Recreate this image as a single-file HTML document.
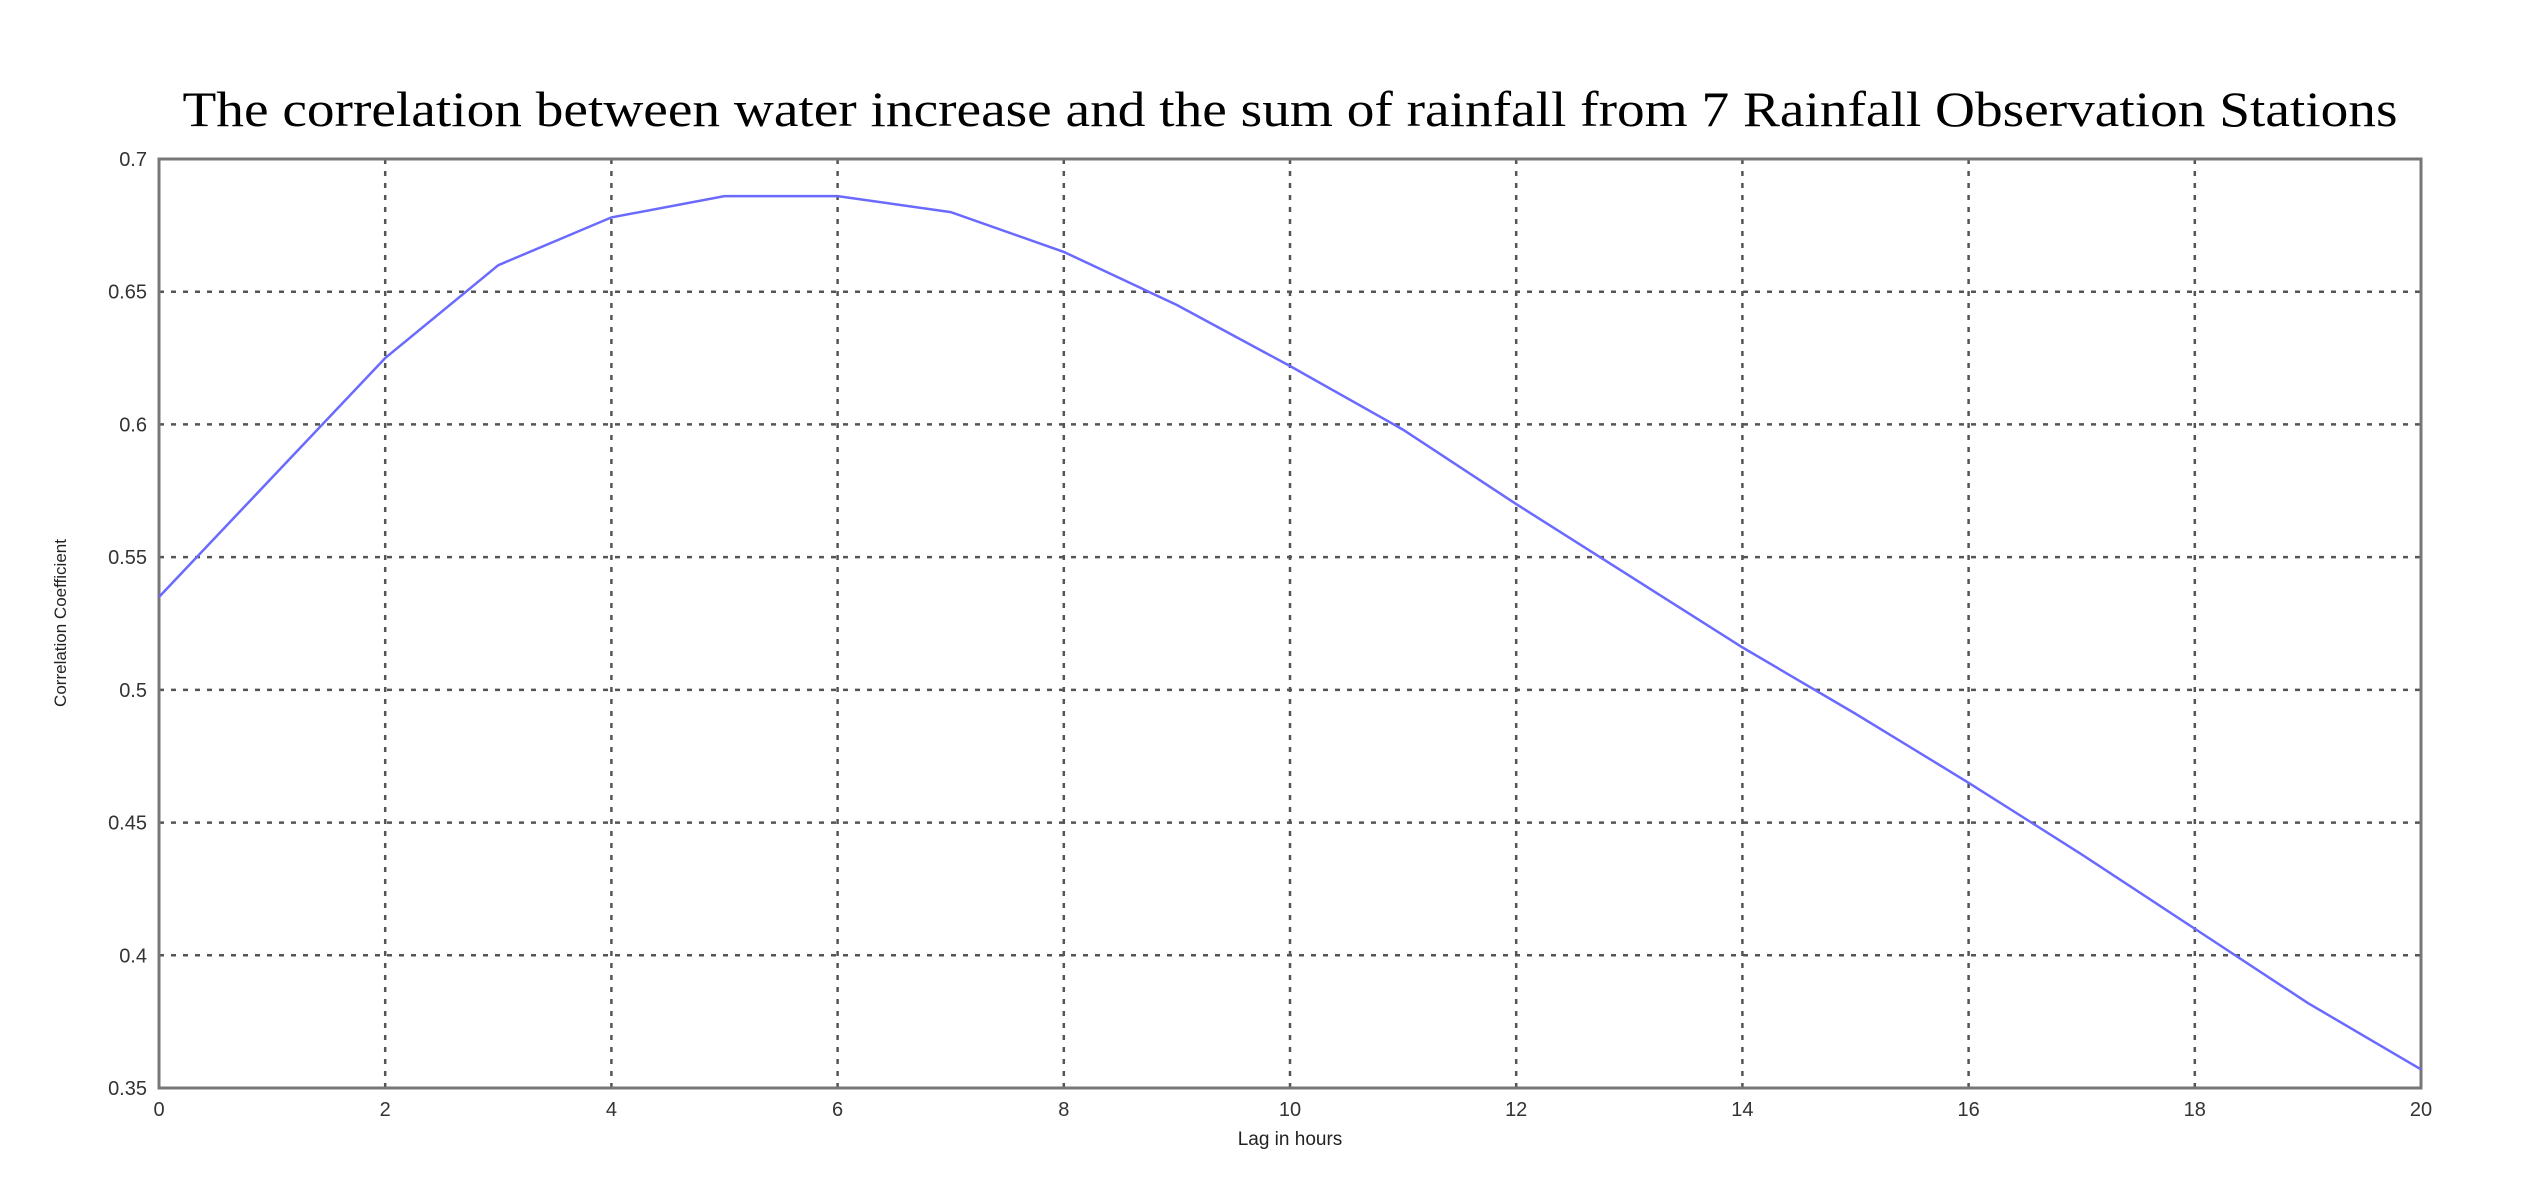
<!DOCTYPE html>
<html><head><meta charset="utf-8"><style>
html,body{margin:0;padding:0;background:#fff;width:2528px;height:1204px;overflow:hidden}
</style></head><body>
<svg id="c" width="2528" height="1204" xmlns="http://www.w3.org/2000/svg">
<text x="1290" y="126" text-anchor="middle" font-family="Liberation Serif, serif" font-size="50" textLength="2215" lengthAdjust="spacingAndGlyphs" fill="#000">The correlation between water increase and the sum of rainfall from 7 Rainfall Observation Stations</text>
<g id="grid"></g>
<g id="ticks"></g>
<rect x="159" y="159" width="2262" height="929" fill="none" stroke="#777" stroke-width="3"/>
<path id="line" fill="none" stroke="#6a6aff" stroke-width="2.5"/>
<text x="1290" y="1145" text-anchor="middle" font-family="Liberation Sans, sans-serif" font-size="19" fill="#222">Lag in hours</text>
<text transform="translate(66,623) rotate(-90)" text-anchor="middle" font-family="Liberation Sans, sans-serif" font-size="17" fill="#222">Correlation Coefficient</text>
</svg>
<script>
const lags=[0,1,2,3,4,5,6,7,8,9,10,11,12,13,14,15,16,17,18,19,20];
const corr=[0.535,0.58,0.625,0.66,0.678,0.686,0.686,0.680,0.665,0.645,0.622,0.598,0.570,0.543,0.516,0.491,0.465,0.438,0.410,0.382,0.357];
const xTicks=[0,2,4,6,8,10,12,14,16,18,20];
const yTicks=[0.35,0.4,0.45,0.5,0.55,0.6,0.65,0.7];
const yTickLabels=["0.35","0.4","0.45","0.5","0.55","0.6","0.65","0.7"];
const L=159,R=2421,T=159,B=1088;
const xs=v=>L+(v-0)/(20-0)*(R-L);
const ys=v=>B-(v-0.35)/(0.7-0.35)*(B-T);
const NS='http://www.w3.org/2000/svg';
const grid=document.getElementById('grid'),ticks=document.getElementById('ticks');
function mk(tag,attrs,parent){const e=document.createElementNS(NS,tag);for(const k in attrs)e.setAttribute(k,attrs[k]);parent.appendChild(e);return e;}
xTicks.forEach(t=>{
  const x=xs(t);
  if(t>0&&t<20){const g=mk('line',{x1:x,x2:x,y1:T,y2:B,stroke:'#555','stroke-width':2.5,'stroke-dasharray':'5 7'},grid);
  
  }
  const l=mk('text',{x:x,y:1116,'text-anchor':'middle','font-family':'Liberation Sans, sans-serif','font-size':20,fill:'#333'},ticks);
  l.textContent=t;
  
  
});
yTicks.forEach((t,i)=>{
  const y=ys(t);
  if(i>0&&i<yTicks.length-1){const g=mk('line',{x1:L,x2:R,y1:y,y2:y,stroke:'#555','stroke-width':2.5,'stroke-dasharray':'5 7'},grid);
  
  }
  const l=mk('text',{x:147,y:y+7,'text-anchor':'end','font-family':'Liberation Sans, sans-serif','font-size':20,fill:'#333'},ticks);
  l.textContent=yTickLabels[i];
  
  
});
document.getElementById('line').setAttribute('d',lags.map((v,i)=>(i?'L':'M')+xs(v)+' '+ys(corr[i])).join(' '));
</script>
</body></html>
